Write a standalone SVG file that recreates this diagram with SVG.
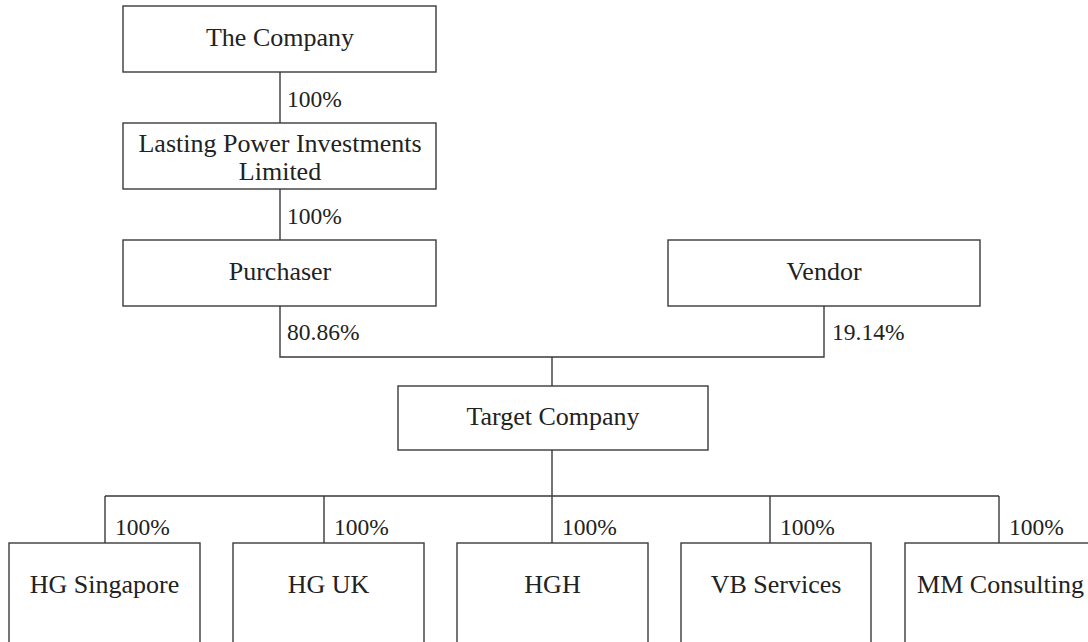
<svg xmlns="http://www.w3.org/2000/svg" width="1088" height="642" viewBox="0 0 1088 642">
<style>
.box{fill:#fff;stroke:#3a3a3a;stroke-width:1.4}
.ln{fill:none;stroke:#3a3a3a;stroke-width:1.4}
.t{font-family:"Liberation Serif",serif;font-size:26px;fill:#222;text-anchor:middle}
.p{font-family:"Liberation Serif",serif;font-size:23.5px;fill:#222}
</style>
<rect width="1088" height="642" fill="#fff"/>
<g id="connectors">
<path class="ln" d="M280,72V123M280,189V240M280,306V357H824V306M552,357V386M552,450V496M105,496H999M105,496V543M324,496V543M552,496V543M770,496V543M999,496V543"/>
<text class="p" x="287" y="107">100%</text>
<text class="p" x="287" y="224">100%</text>
<text class="p" x="287" y="340">80.86%</text>
<text class="p" x="832" y="340">19.14%</text>
<text class="p" x="115" y="535">100%</text>
<text class="p" x="334" y="535">100%</text>
<text class="p" x="562" y="535">100%</text>
<text class="p" x="780" y="535">100%</text>
<text class="p" x="1009" y="535">100%</text>
</g>
<g id="the-company"><rect class="box" x="123" y="6" width="313" height="66"/><text class="t" x="280" y="46">The Company</text></g>
<g id="lpi"><rect class="box" x="123" y="123" width="313" height="66"/><text class="t" x="280" y="152">Lasting Power Investments</text><text class="t" x="280" y="180">Limited</text></g>
<g id="purchaser"><rect class="box" x="123" y="240" width="313" height="66"/><text class="t" x="280" y="280">Purchaser</text></g>
<g id="vendor"><rect class="box" x="668" y="240" width="312" height="66"/><text class="t" x="824" y="280">Vendor</text></g>
<g id="target"><rect class="box" x="398" y="386" width="310" height="64"/><text class="t" x="553" y="425">Target Company</text></g>
<g id="hg-singapore"><rect class="box" x="9" y="543" width="191" height="110"/><text class="t" x="104.5" y="593">HG Singapore</text></g>
<g id="hg-uk"><rect class="box" x="233" y="543" width="191" height="110"/><text class="t" x="328.5" y="593">HG UK</text></g>
<g id="hgh"><rect class="box" x="457" y="543" width="191" height="110"/><text class="t" x="552.5" y="593">HGH</text></g>
<g id="vb-services"><rect class="box" x="681" y="543" width="190" height="110"/><text class="t" x="776" y="593">VB Services</text></g>
<g id="mm-consulting"><rect class="box" x="905" y="543" width="191" height="110"/><text class="t" x="1000.5" y="593">MM Consulting</text></g>
</svg>
